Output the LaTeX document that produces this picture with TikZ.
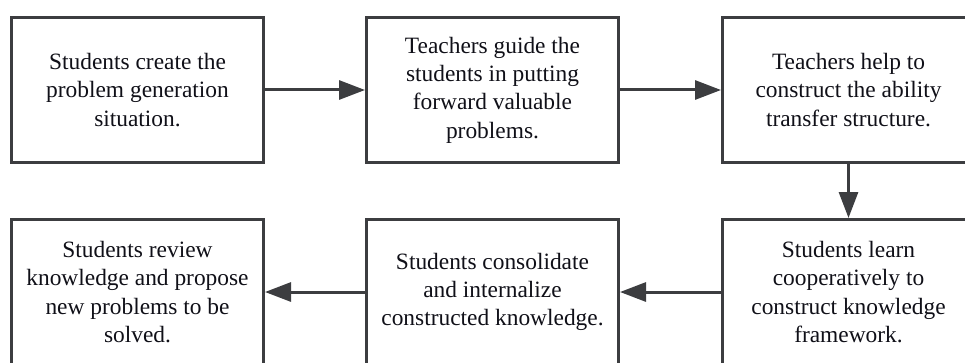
\documentclass[tikz,border=0pt]{standalone}
\usepackage{fontspec}
\setmainfont{Liberation Serif}
\usetikzlibrary{arrows.meta}
\definecolor{edge}{HTML}{3C3D40}
\definecolor{ink}{HTML}{101018}
\begin{document}
\begin{tikzpicture}[x=1pt,y=1pt,
  stepbox/.style={draw=edge, line width=3pt, fill=white, minimum width=252pt, minimum height=145pt,
    align=center, text=ink, font=\fontsize{23.4pt}{28.3pt}\selectfont, inner sep=0pt},
  conn/.style={draw=edge, line width=3pt, -{Triangle[length=26pt,width=19pt]}}]
\useasboundingbox (0,0) rectangle (965,362);
\fill[white] (0,0) rectangle (965,362);
\begin{scope}
\clip (0,0) rectangle (965,362);
\node[stepbox] (a) at (137.5,272) {Students create the\\problem generation\\situation.};
\node[stepbox] (b) at (492.5,272) {Teachers guide the\\students in putting\\forward valuable\\problems.};
\node[stepbox] (c) at (848.5,272) {Teachers help to\\construct the ability\\transfer structure.};
\node[stepbox] (d) at (848.5,70) {Students learn\\cooperatively to\\construct knowledge\\framework.};
\node[stepbox] (e) at (492.5,70) {Students consolidate\\and internalize\\constructed knowledge.};
\node[stepbox] (f) at (137.5,70) {Students review\\knowledge and propose\\new problems to be\\solved.};
\draw[conn] (a) -- (b);
\draw[conn] (b) -- (c);
\draw[conn] (c) -- (d);
\draw[conn] (d) -- (e);
\draw[conn] (e) -- (f);
\end{scope}
\end{tikzpicture}
\end{document}
